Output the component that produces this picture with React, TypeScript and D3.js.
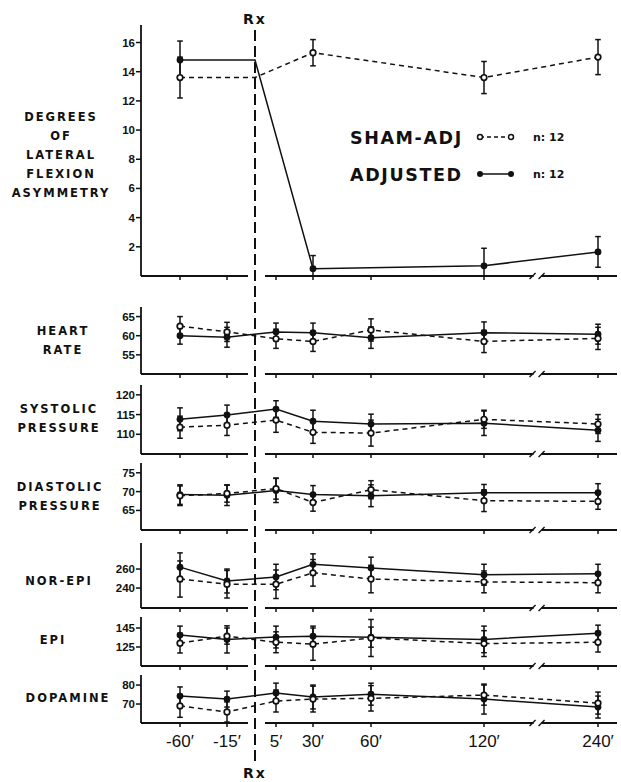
import React from "react";
import * as d3 from "d3";

// time points (minutes relative to treatment) and their labels
const minutes = [-60, -15, 5, 30, 60, 120, 240];
const timeLabels = ["-60′", "-15′", "5′", "30′", "60′", "120′", "240′"];

// lateral flexion asymmetry (no -15, 5, 60 readings)
const flexMinutes = [-60, 30, 120, 240];
const flexSham = [13.6, 15.3, 13.6, 15.0];
const flexShamErr = [1.4, 0.9, 1.1, 1.2];
const flexAdj = [14.8, 0.5, 0.7, 1.65];
const flexAdjErr = [1.3, 0.9, 1.2, 1.05];

const heartSham = [62.5, 61.0, 59.2, 58.5, 61.5, 58.5, 59.3];
const heartShamErr = [2.5, 2.5, 2.5, 2.6, 2.9, 2.9, 2.9];
const heartAdj = [60.0, 59.6, 61.0, 60.8, 59.5, 60.8, 60.4];
const heartAdjErr = [2.2, 2.6, 2.3, 2.5, 2.8, 2.8, 2.6];

const sysSham = [111.8, 112.3, 113.6, 110.5, 110.3, 113.8, 112.6];
const sysShamErr = [2.8, 2.6, 3.1, 2.8, 3.3, 2.3, 2.4];
const sysAdj = [113.8, 114.9, 116.4, 113.3, 112.6, 112.8, 111.0];
const sysAdjErr = [2.9, 2.5, 2.1, 2.8, 2.5, 3.1, 2.8];

const diaSham = [68.9, 69.5, 70.8, 67.1, 70.5, 67.6, 67.4];
const diaShamErr = [2.6, 2.3, 2.8, 2.3, 2.4, 2.9, 2.1];
const diaAdj = [69.2, 69.0, 70.3, 69.2, 68.9, 69.7, 69.7];
const diaAdjErr = [2.6, 2.7, 3.2, 2.4, 2.9, 2.2, 2.4];

const neSham = [249.5, 244, 244, 256, 249.5, 246.5, 245.6];
const neShamErr = [19, 14.5, 15, 14, 14.5, 11.5, 10.6];
const neAdj = [262, 247.4, 251.6, 265, 261, 254, 255];
const neAdjErr = [15, 12.6, 13.4, 11, 11.5, 11, 10];

const epiSham = [129, 136.5, 130, 128, 134.5, 128.6, 130];
const epiShamErr = [10.3, 8.5, 11, 17, 19.5, 13.6, 10.3];
const epiAdj = [137.6, 133, 135.5, 136.4, 135.4, 133, 139.6];
const epiAdjErr = [9.4, 14.3, 11.5, 10.6, 10.6, 14, 8.4];

const dopaSham = [69, 65.8, 71.6, 72.6, 73, 74.7, 70.5];
const dopaShamErr = [6, 5.3, 5.8, 6.8, 6.7, 5.3, 5.8];
const dopaAdj = [74.2, 72.6, 75.8, 73.7, 75.2, 72.6, 68.4];
const dopaAdjErr = [4.8, 4.2, 5.2, 6.3, 5.8, 7.9, 5.8];

const W = 621;
const H = 782;
const axisX = 141;
const axisEnd = 617;
const rxTime = 0;

const x = d3
  .scaleLinear()
  .domain([-60, -15, 0, 5, 30, 60, 120, 240])
  .range([180, 227, 255, 276, 313, 371, 484, 598]);

const labelFont = "'DejaVu Sans', sans-serif";

const panels = [
  {
    label: ["DEGREES", "OF", "LATERAL", "FLEXION", "ASYMMETRY"],
    lx: 61, ly: 155, top: 25, bottom: 276, domain: [0, 17.2],
    ticks: [2, 4, 6, 8, 10, 12, 14, 16],
    mins: flexMinutes, sham: flexSham, shamErr: flexShamErr, adj: flexAdj, adjErr: flexAdjErr,
    carry: true,
  },
  {
    label: ["HEART", "RATE"], lx: 63, ly: 340, top: 307, bottom: 374, domain: [50, 67.5],
    ticks: [55, 60, 65],
    mins: minutes, sham: heartSham, shamErr: heartShamErr, adj: heartAdj, adjErr: heartAdjErr,
  },
  {
    label: ["SYSTOLIC", "PRESSURE"], lx: 59, ly: 418, top: 385, bottom: 454, domain: [105, 122.5],
    ticks: [110, 115, 120],
    mins: minutes, sham: sysSham, shamErr: sysShamErr, adj: sysAdj, adjErr: sysAdjErr,
  },
  {
    label: ["DIASTOLIC", "PRESSURE"], lx: 60, ly: 496, top: 463, bottom: 530, domain: [59.8, 77.6],
    ticks: [65, 70, 75],
    mins: minutes, sham: diaSham, shamErr: diaShamErr, adj: diaAdj, adjErr: diaAdjErr,
  },
  {
    label: ["NOR-EPI"], lx: 59, ly: 581, top: 543, bottom: 608, domain: [219, 287.4],
    ticks: [240, 260],
    mins: minutes, sham: neSham, shamErr: neShamErr, adj: neAdj, adjErr: neAdjErr,
  },
  {
    label: ["EPI"], lx: 53, ly: 640, top: 617, bottom: 666, domain: [105, 156.6],
    ticks: [125, 145],
    mins: minutes, sham: epiSham, shamErr: epiShamErr, adj: epiAdj, adjErr: epiAdjErr,
  },
  {
    label: ["DOPAMINE"], lx: 68, ly: 698, top: 675, bottom: 723, domain: [60, 85.3],
    ticks: [70, 80],
    mins: minutes, sham: dopaSham, shamErr: dopaShamErr, adj: dopaAdj, adjErr: dopaAdjErr,
  },
];

const ErrBar = ({ cx, v, e, y, min }) => {
  const lo = v - e;
  const hi = v + e;
  const clipped = lo < min;
  const y1 = y(hi);
  const y2 = y(Math.max(lo, min));
  return (
    <g stroke="#111" strokeWidth={1.5}>
      <line x1={cx} x2={cx} y1={y1} y2={y2} />
      <line x1={cx - 2.8} x2={cx + 2.8} y1={y1} y2={y1} />
      {!clipped && <line x1={cx - 2.8} x2={cx + 2.8} y1={y2} y2={y2} />}
    </g>
  );
};

const Panel = ({ p }) => {
  const y = d3.scaleLinear().domain(p.domain).range([p.bottom, p.top]);
  const pts = (vals) => {
    const arr = p.mins.map((m, i) => [m, vals[i]]);
    // flexion readings: baseline carried forward to the treatment line
    if (p.carry) arr.splice(1, 0, [rxTime, vals[0]]);
    return arr;
  };
  const line = d3
    .line<number[]>()
    .x((d) => x(d[0]))
    .y((d) => y(d[1]));
  const gapL = x(rxTime) - 7;
  const gapR = x(rxTime) + 10;
  const brk = x(120) + (x(240) - x(120)) * 0.47;
  const yb = p.bottom;
  return (
    <g>
      {/* label */}
      <text
        fontFamily={labelFont}
        fontWeight="bold"
        fontSize={11.5}
        letterSpacing={2}
        textAnchor="middle"
        fill="#111"
      >
        {p.label.map((l, i) => (
          <tspan key={i} x={p.lx} y={p.ly + (i - (p.label.length - 1) / 2) * 19 + 4}>
            {l}
          </tspan>
        ))}
      </text>
      {/* y axis */}
      <line x1={axisX} x2={axisX} y1={p.top} y2={yb} stroke="#111" strokeWidth={1.8} />
      {p.ticks.map((t) => (
        <g key={t}>
          <line x1={axisX - 5} x2={axisX} y1={y(t)} y2={y(t)} stroke="#111" strokeWidth={1.5} />
          <text
            x={axisX - 6}
            y={y(t) + 4}
            textAnchor="end"
            fontFamily="'Liberation Sans', sans-serif"
            fontWeight="bold"
            fontSize={11.5}
            fill="#111"
          >
            {t}
          </text>
        </g>
      ))}
      {/* x axis with gap at Rx and break */}
      <g stroke="#111" strokeWidth={1.8} fill="none">
        <line x1={axisX} x2={gapL} y1={yb} y2={yb} />
        <line x1={gapR} x2={brk - 4} y1={yb} y2={yb} />
        <line x1={brk + 4} x2={axisEnd} y1={yb} y2={yb} />
        <line x1={brk - 8} x2={brk - 2} y1={yb + 3} y2={yb - 3} strokeWidth={1.4} />
        <line x1={brk + 1} x2={brk + 7} y1={yb + 3} y2={yb - 3} strokeWidth={1.4} />
      </g>
      {minutes.map((m) => (
        <line key={m} x1={x(m)} x2={x(m)} y1={yb} y2={yb + 4} stroke="#111" strokeWidth={1.5} />
      ))}
      {/* series lines */}
      <path d={line(pts(p.sham))} fill="none" stroke="#111" strokeWidth={1.5} strokeDasharray="5,4" />
      <path d={line(pts(p.adj))} fill="none" stroke="#111" strokeWidth={1.5} />
      {p.mins.map((m, i) => (
        <g key={m}>
          <ErrBar cx={x(m)} v={p.sham[i]} e={p.shamErr[i]} y={y} min={p.domain[0]} />
          <ErrBar cx={x(m)} v={p.adj[i]} e={p.adjErr[i]} y={y} min={p.domain[0]} />
        </g>
      ))}
      {p.mins.map((m, i) => (
        <g key={m}>
          <circle cx={x(m)} cy={y(p.adj[i])} r={3.4} fill="#111" />
          <circle cx={x(m)} cy={y(p.sham[i])} r={2.8} fill="#fff" stroke="#111" strokeWidth={1.7} />
        </g>
      ))}
    </g>
  );
};

export default function App() {
  const rx = x(rxTime);
  return (
    <svg
      width={W}
      height={H}
      style={{ position: "absolute", left: 0, top: 0, background: "#fff" }}
    >
      {panels.map((p, i) => (
        <Panel key={i} p={p} />
      ))}
      {/* treatment line */}
      <line x1={rx} x2={rx} y1={30} y2={762} stroke="#111" strokeWidth={2} strokeDasharray="11,5" />
      <text x={rx} y={24} textAnchor="middle" fontFamily={labelFont} fontWeight="bold" fontSize={14} letterSpacing={2} fill="#111">
        Rx
      </text>
      <text x={rx} y={778} textAnchor="middle" fontFamily={labelFont} fontWeight="bold" fontSize={14} letterSpacing={2} fill="#111">
        Rx
      </text>
      {/* x tick labels */}
      {minutes.map((m, i) => (
        <text
          key={m}
          x={x(m)}
          y={747}
          textAnchor="middle"
          fontFamily="'Liberation Sans', sans-serif"
          fontSize={17}
          fill="#111"
        >
          {timeLabels[i]}
        </text>
      ))}
      {/* legend */}
      <g fontFamily={labelFont} fontWeight="bold" fill="#111">
        <text x={350} y={144} fontSize={17.5} letterSpacing={1.6}>SHAM-ADJ</text>
        <text x={350} y={181} fontSize={17.5} letterSpacing={1.6}>ADJUSTED</text>
        <line x1={480} x2={511} y1={137} y2={137} stroke="#111" strokeWidth={1.5} strokeDasharray="4,3" />
        <circle cx={480} cy={137} r={2.5} fill="#fff" stroke="#111" strokeWidth={1.5} />
        <circle cx={511} cy={137} r={2.5} fill="#fff" stroke="#111" strokeWidth={1.5} />
        <line x1={480} x2={511} y1={174} y2={174} stroke="#111" strokeWidth={1.5} />
        <circle cx={480} cy={174} r={3} fill="#111" />
        <circle cx={511} cy={174} r={3} fill="#111" />
        <text x={533} y={141} fontSize={11}>n: 12</text>
        <text x={533} y={178} fontSize={11}>n: 12</text>
      </g>
    </svg>
  );
}
